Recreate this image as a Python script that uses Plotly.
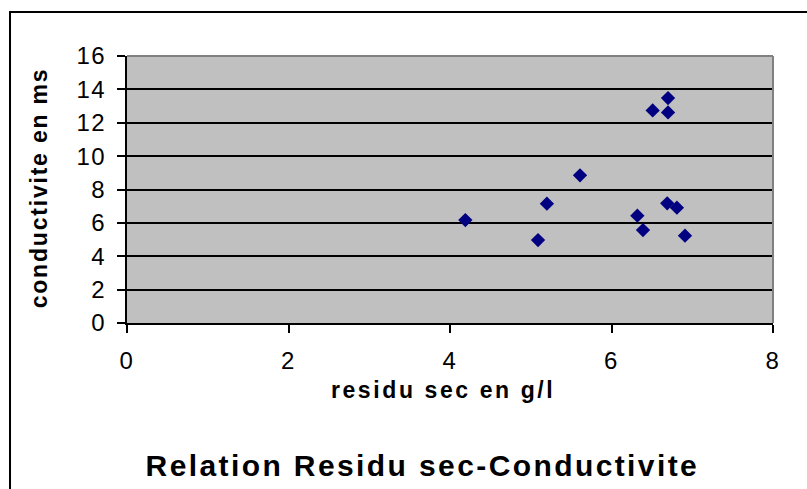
import plotly.graph_objects as go

# Data
residu_sec = [4.19, 5.09, 5.20, 5.61, 6.32, 6.39, 6.51, 6.70, 6.70, 6.69, 6.81, 6.91]
conductivite = [6.17, 4.97, 7.15, 8.85, 6.43, 5.57, 12.74, 13.48, 12.62, 7.17, 6.91, 5.23]
x_ticks = [0, 2, 4, 6, 8]
y_ticks = [0, 2, 4, 6, 8, 10, 12, 14, 16]

title_text = "Relation Residu sec-Conductivite"
x_title = "residu sec en g/l"
y_title = "conductivite en ms"

FONT = "Liberation Sans, Arial, sans-serif"

fig = go.Figure()
fig.add_trace(go.Scatter(
    x=residu_sec, y=conductivite, mode="markers",
    marker=dict(symbol="diamond", size=11, color="#000080", line=dict(width=0)),
    showlegend=False,
))

axis_common = dict(
    ticks="outside", ticklen=8, tickwidth=2, tickcolor="black",
    showline=True, linecolor="black", linewidth=2,
    zeroline=False,
    tickfont=dict(family=FONT, size=24, color="black"),
)

fig.update_layout(
    width=807, height=489,
    margin=dict(l=127, r=34, t=56, b=166),
    paper_bgcolor="white",
    plot_bgcolor="#C0C0C0",
    xaxis=dict(range=[0, 8], tickvals=x_ticks, showgrid=False,
               ticklabelstandoff=7, **axis_common),
    yaxis=dict(range=[0, 16], tickvals=y_ticks, showgrid=True,
               gridcolor="black", gridwidth=2, ticklabelstandoff=6,
               **axis_common),
    annotations=[
        dict(text="<b>%s</b>" % title_text, xref="paper", yref="paper",
             x=0.4574, y=-0.534, xanchor="center", yanchor="middle",
             showarrow=False, font=dict(family=FONT, size=30, color="black")),
        dict(text="<b>%s</b>" % x_title, xref="paper", yref="paper",
             x=0.4892, y=-0.251, xanchor="center", yanchor="middle",
             showarrow=False, font=dict(family=FONT, size=23, color="black")),
        dict(text="<b>%s</b>" % y_title, xref="paper", yref="paper",
             x=-0.136, y=0.5056, xanchor="center", yanchor="middle",
             textangle=-90,
             showarrow=False, font=dict(family=FONT, size=23, color="black")),
    ],
    shapes=[
        # plot-area border (top and right, gray)
        dict(type="line", xref="paper", yref="paper", x0=0, x1=1, y0=1, y1=1,
             line=dict(color="#808080", width=2), layer="above"),
        dict(type="line", xref="paper", yref="paper", x0=1, x1=1, y0=0, y1=1,
             line=dict(color="#808080", width=2), layer="above"),
        # outer chart border
        dict(type="rect", xref="paper", yref="paper",
             x0=-0.1811, x1=1.08, y0=-0.68, y1=1.1648,
             line=dict(color="black", width=2), fillcolor="rgba(0,0,0,0)",
             layer="above"),
    ],
)

post = """
var gd = document.getElementById('{plot_id}');
var sp = [2.4, 2.6, 1.8];
gd.querySelectorAll('.annotation-text').forEach(function(t, i){
  t.style.letterSpacing = (sp[i] || 2) + 'px';
});
gd.querySelectorAll('.xtick text, .ytick text').forEach(function(t){
  t.style.letterSpacing = '1.5px';
});
"""

fig.write_html("out.html", post_script=post)
